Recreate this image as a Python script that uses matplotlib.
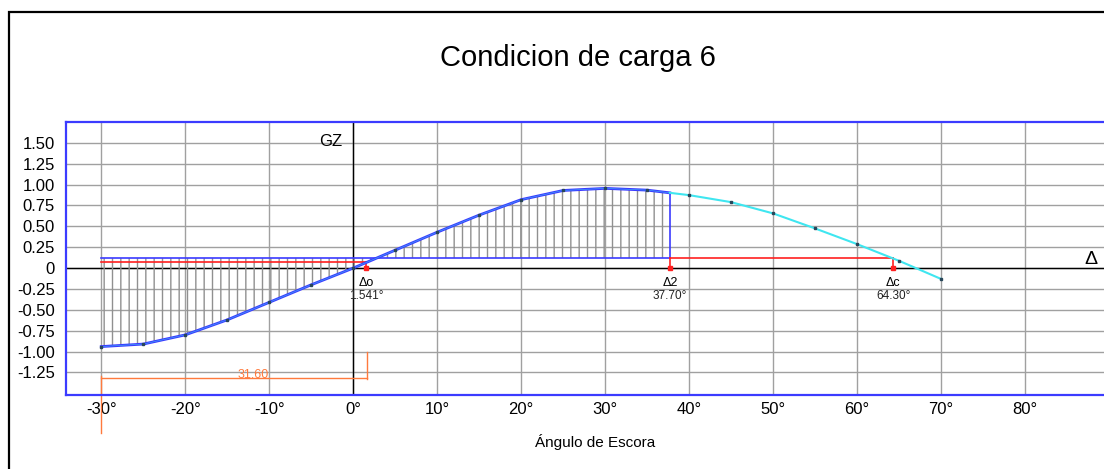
import numpy as np
import matplotlib
matplotlib.use("Agg")
import matplotlib.pyplot as plt
from matplotlib.patches import Rectangle

plt.rcParams['font.family'] = ['Liberation Sans', 'DejaVu Sans']

# --- datos ---
angulos = [-30, -25, -20, -15, -10, -5, 0, 5, 10, 15, 20, 25, 30, 35, 40, 45, 50, 55, 60, 65, 70]
gz = [-0.94, -0.91, -0.80, -0.62, -0.41, -0.20, 0.00, 0.215, 0.43, 0.635, 0.82, 0.93, 0.955, 0.934,
      0.874, 0.79, 0.655, 0.475, 0.287, 0.087, -0.13]
brazo_escora = 0.12      # linea azul / roja superior
brazo_inicial = 0.075    # linea roja izquierda
delta_o = 1.541
delta_2 = 37.70
delta_c = 64.30
cota = 31.60
x_ticks = [-30, -20, -10, 0, 10, 20, 30, 40, 50, 60, 70, 80]
y_ticks = [-1.25, -1.00, -0.75, -0.50, -0.25, 0, 0.25, 0.50, 0.75, 1.00, 1.25, 1.50]

W, H = 1104, 469
fig = plt.figure(figsize=(W/100, H/100), dpi=100)
ax = fig.add_axes([66/W, 1-395/H, 1-66/W, (395-122)/H])
ax.set_xlim(-34.2, 89.4)
ax.set_ylim(-1.52, 1.75)

AZUL = "#3b3bff"
CIAN = "#3fe6f0"
ROJO = "#ff2020"
NAR = "#ff7a3d"

# rejilla
ax.set_xticks(x_ticks)
ax.set_yticks(y_ticks)
ax.set_xticklabels([f"{v}°" for v in x_ticks])
ax.set_yticklabels(["0" if v == 0 else f"{v:.2f}" for v in y_ticks])
ax.grid(True, color="#a0a0a0", lw=1)
ax.tick_params(length=0, labelsize=12, colors="black")
ax.tick_params(axis="y", pad=8)
ax.tick_params(axis="x", pad=5)
for s in ["left", "top", "bottom"]:
    ax.spines[s].set_color(AZUL)
    ax.spines[s].set_linewidth(1.6)
ax.spines["right"].set_visible(False)
ax.axhline(0, color="black", lw=1, zorder=2)
ax.axvline(0, color="black", lw=1, zorder=2)

# curva hasta delta_2 y resto
ang = np.array(angulos, dtype=float)
g = np.array(gz)
m = ang < delta_2
xf = np.append(ang[m], delta_2)
yf = np.append(g[m], np.interp(delta_2, ang, g))
xr = np.insert(ang[~m], 0, delta_2)
yr = np.insert(g[~m], 0, yf[-1])

# rayado del area
ax.fill_between(xf, yf, brazo_escora, interpolate=True, hatch="||", facecolor="none",
                edgecolor="#909090", lw=0, zorder=3)

ax.plot(xf, yf, color=AZUL, lw=2.0, zorder=5)
ax.plot(xf, yf, color=CIAN, lw=0.5, alpha=0.6, zorder=5)
ax.plot(xr, yr, color=CIAN, lw=1.5, zorder=5)
ax.plot(ang, g, ls="none", marker="s", ms=2, color="#28465a", zorder=6)

# lineas de brazo escorante
ax.plot([angulos[0], delta_2], [brazo_escora, brazo_escora], color=AZUL, lw=1.2, zorder=4)
ax.plot([delta_2, delta_2], [brazo_escora, yf[-1]], color=AZUL, lw=1.2, zorder=4)
ax.plot([angulos[0], delta_o], [brazo_inicial, brazo_inicial], color=ROJO, lw=1.2, zorder=4)
ax.plot([delta_2, delta_c], [brazo_escora, brazo_escora], color=ROJO, lw=1.2, zorder=4)
ax.plot([delta_o, delta_o], [0, brazo_inicial], color=ROJO, lw=1.2, zorder=4)
ax.plot([delta_2, delta_2], [0, brazo_escora], color=ROJO, lw=1.2, zorder=4)
ax.plot([delta_c, delta_c], [0, brazo_escora], color=ROJO, lw=1.2, zorder=4)
ax.plot([delta_o, delta_2, delta_c], [0, 0, 0], ls="none", marker="s", ms=2.5, color=ROJO, zorder=6)

# etiquetas delta
for xv, nom in [(delta_o, "Δo"), (delta_2, "Δ2"), (delta_c, "Δc")]:
    ax.text(xv, -0.18, nom, fontsize=9, ha="center", va="center")
    ax.text(xv, -0.34, f"{xv:.3f}°" if nom == "Δo" else f"{xv:.2f}°", fontsize=8.5,
            ha="center", va="center", color="#222222")

ax.text(-1.3, 1.52, "GZ", fontsize=12, ha="right", va="center")
ax.text(87.9, 0.10, "Δ", fontsize=14, ha="center", va="center")

# cota naranja
ax.plot([angulos[0], angulos[0] + cota], [-1.32, -1.32], color=NAR, lw=1)
ax.plot([angulos[0] + cota] * 2, [-1.01, -1.33], color=NAR, lw=1)
ax.plot([angulos[0]] * 2, [-1.29, -1.97], color=NAR, lw=1, clip_on=False)
ax.text(angulos[0] + cota / 2 + 2.3, -1.28, f"{cota:.2f}", color=NAR, fontsize=9,
        ha="center", va="center")

# textos de figura
fig.text(578/W, 1-58/H, "Condicion de carga 6", fontsize=21, ha="center", va="center")
fig.text(595/W, 1-442/H, "Ángulo de Escora", fontsize=11, ha="center", va="center")

# marco exterior
fig.add_artist(Rectangle((9/W, -0.2), 1.2, 1.2 - 12/H, transform=fig.transFigure,
                         fill=False, ec="black", lw=1.6))

fig.savefig("out.png", dpi=100)
